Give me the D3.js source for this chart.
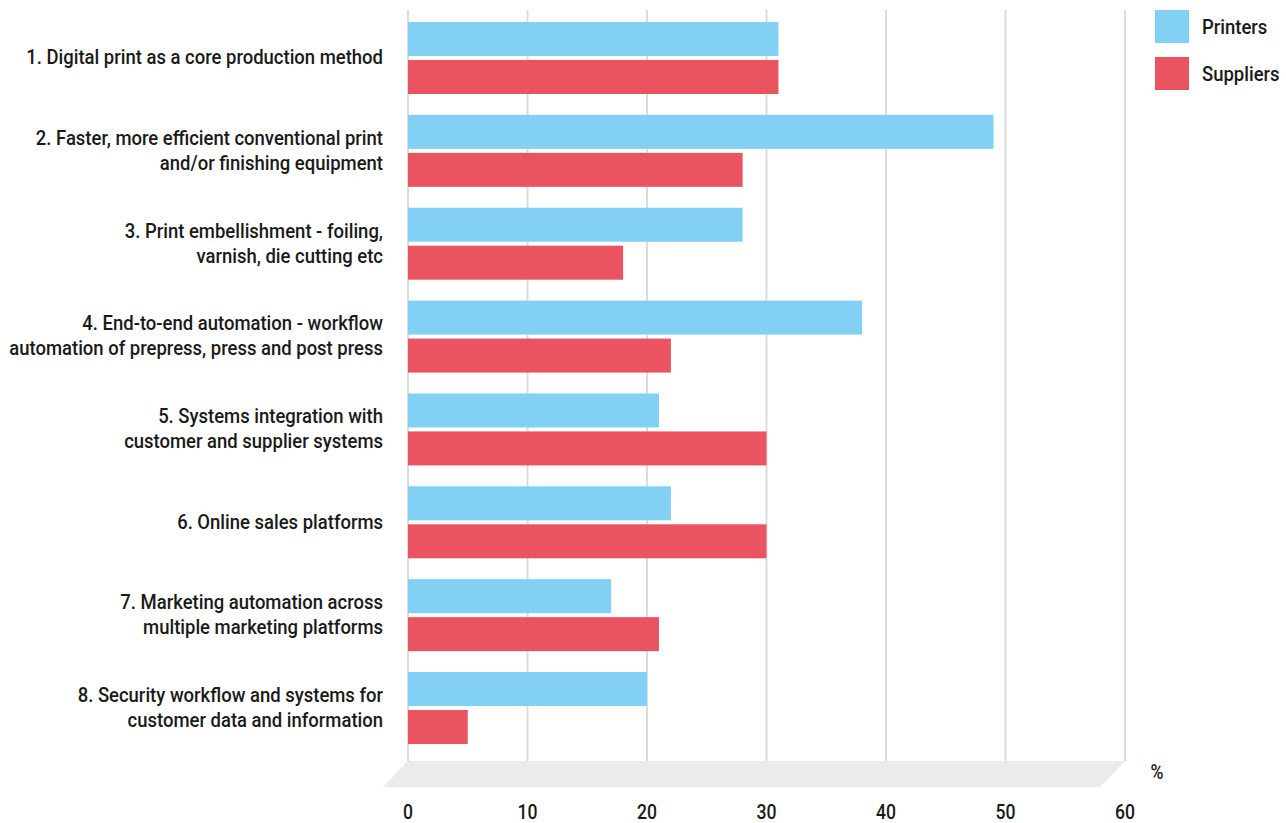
<!DOCTYPE html>
<html>
<head>
<meta charset="utf-8">
<script src="https://cdn.jsdelivr.net/npm/d3@7"></script>
<style>
  body { margin: 0; background: #fff; }
  svg text { font-family: "Roboto", "Liberation Sans", sans-serif; font-weight: 500; fill: #1a1a1a; }
</style>
</head>
<body>
<svg id="chart" width="1286" height="823"></svg>
<script>
// data
var categories = [
  ["1. Digital print as a core production method"],
  ["2. Faster, more efficient conventional print", "and/or finishing equipment"],
  ["3. Print embellishment - foiling,", "varnish, die cutting etc"],
  ["4. End-to-end automation - workflow", "automation of prepress, press and post press"],
  ["5. Systems integration with", "customer and supplier systems"],
  ["6. Online sales platforms"],
  ["7. Marketing automation across", "multiple marketing platforms"],
  ["8. Security workflow and systems for", "customer data and information"]
];
var seriesNames = ["Printers", "Suppliers"];
var printers = [31, 49, 28, 38, 21, 22, 17, 20];
var suppliers = [31, 28, 18, 22, 30, 30, 21, 5];
var xTicks = [0, 10, 20, 30, 40, 50, 60];
var colors = ["#83d0f5", "#ea5461"];

var svg = d3.select("#chart");

var x = d3.scaleLinear().domain([0, 60]).range([408, 1125]);
var y = d3.scaleBand().domain(d3.range(categories.length)).range([22, 22 + 8 * 92.86]);
var ys = d3.scaleBand().domain(seriesNames).range([0, 72]).paddingInner(4 / 38);

// floor
var floorTop = 761, floorBot = 787, skew = 25;
svg.append("path")
  .attr("d", "M" + x(0) + " " + floorTop + " L" + x(60) + " " + floorTop +
    " L" + (x(60) - skew) + " " + floorBot + " L" + (x(0) - skew) + " " + floorBot + " Z")
  .style("fill", "#ebebeb");

// grid
svg.append("g").selectAll("line")
  .data(xTicks)
  .join("line")
    .attr("x1", d => x(d)).attr("x2", d => x(d))
    .attr("y1", 10).attr("y2", floorTop)
    .style("stroke", "#dcdcdc")
    .style("stroke-width", 2);

// bars
var vals = [printers, suppliers];
var groups = svg.append("g").selectAll("g")
  .data(categories)
  .join("g")
    .attr("transform", (d, i) => "translate(0," + y(i) + ")");

groups.selectAll("rect")
  .data((d, i) => seriesNames.map((s, j) => ({s: s, v: vals[j][i], c: colors[j]})))
  .join("rect")
    .attr("x", x(0))
    .attr("y", d => ys(d.s))
    .attr("width", d => x(d.v) - x(0))
    .attr("height", ys.bandwidth())
    .style("fill", d => d.c);

// category labels
var labels = groups.append("text")
  .attr("text-anchor", "end")
  .style("font-size", "21px")
  .each(function(d) {
    var t = d3.select(this);
    var lh = 25;
    var start = 35 - (d.length - 1) * lh / 2;
    d.forEach(function(line, k) {
      t.append("tspan")
        .attr("x", 0)
        .attr("y", start + k * lh)
        .attr("dy", "0.35em")
        .text(line);
    });
  });

// squeeze to match the condensed face
var w1 = labels.filter((d, i) => i == 0).node().getComputedTextLength();
var sx = 357 / w1;
labels.attr("transform", "translate(383,0) scale(" + sx + ",1)");

// x tick labels
svg.append("g").selectAll("text")
  .data(xTicks)
  .join("text")
    .attr("transform", d => "translate(" + x(d) + ",812) scale(" + sx + ",1)")
    .attr("dy", "0.35em")
    .attr("text-anchor", "middle")
    .style("font-size", "20px")
    .text(d => d);

svg.append("text")
  .attr("transform", "translate(1157,772) scale(" + sx + ",1)")
  .attr("dy", "0.35em")
  .attr("text-anchor", "middle")
  .style("font-size", "20px")
  .text("%");

// legend
var legend = svg.append("g").selectAll("g")
  .data(seriesNames)
  .join("g")
    .attr("transform", (d, i) => "translate(1155," + (10 + i * 47) + ")");

legend.append("rect")
  .attr("width", 34).attr("height", 33)
  .style("fill", (d, i) => colors[i]);

legend.append("text")
  .attr("transform", "translate(47,16.5) scale(" + sx + ",1)")
  .attr("dy", "0.35em")
  .style("font-size", "21px")
  .text(d => d);
</script>
</body>
</html>
